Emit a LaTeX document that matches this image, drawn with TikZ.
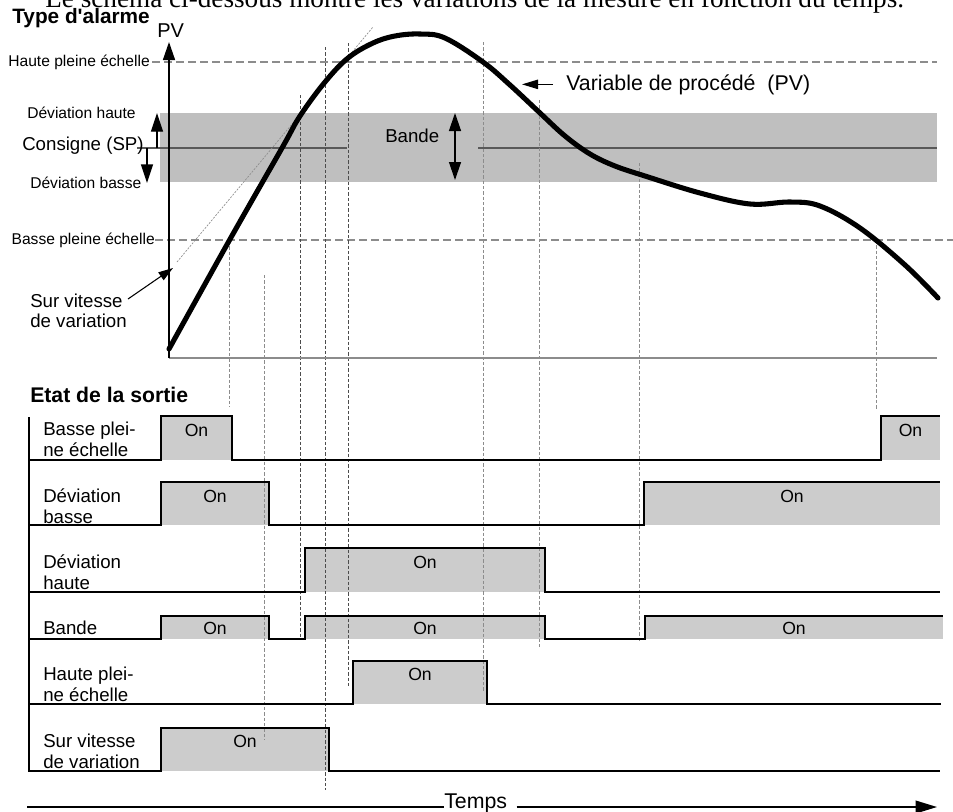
\documentclass[tikz,border=0pt]{standalone}
\usepackage{fontspec}
\setmainfont{Liberation Sans}[Ligatures=TeXOff]
\newfontfamily\alserif{Liberation Serif}
\usepackage{tikz}
\usetikzlibrary{arrows.meta}
\definecolor{band-gray}{gray}{0.75}
\definecolor{pulse-gray}{gray}{0.80}
\definecolor{guide-gray}{gray}{0.55}
\definecolor{sp-gray}{gray}{0.35}
\newcommand{\alfontsmall}{\fontsize{11.7}{14}\selectfont}
\newcommand{\alfontrow}{\fontsize{14}{15.75}\selectfont}
\newcommand{\alfontbig}{\fontsize{16}{18}\selectfont}
\newcommand{\alfonttitle}{\fontsize{15.6}{18}\selectfont\bfseries}
\tikzstyle{bandstyle}=[fill=band-gray]
\tikzstyle{pulsestyle}=[fill=pulse-gray]
\tikzstyle{sigstyle}=[draw=black,line width=2pt]
\tikzstyle{levelstyle}=[draw=guide-gray,line width=1pt,dash pattern=on 6pt off 3pt]
\tikzstyle{guidestyle}=[draw=guide-gray,line width=0.75pt,dash pattern=on 2.5pt off 1.5pt]
\tikzstyle{guidedarkstyle}=[draw=black!70,line width=0.75pt,dash pattern=on 2.5pt off 1.5pt]
\tikzstyle{pvcurvestyle}=[draw=black,line width=3.8pt,line cap=round,line join=round]
\tikzstyle{textstyle}=[anchor=base west,inner sep=0pt,align=left]
\tikzstyle{onstyle}=[anchor=base,inner sep=0pt,font=\fontsize{13.2}{15}\selectfont]
\tikzstyle{bigtip}=[line width=1pt,-{Triangle[length=14pt,width=9pt]}]
\newcommand{\alguide}[4]{ \draw[#4] (#1,#2) -- (#1,#3); }
\newcommand{\alpulse}[6]{ \fill[pulsestyle] (#2,#4) rectangle (#3,#5); \node[onstyle] (#1) at ({(#2+#3)/2},#6) {On}; }
\newcommand{\alrowlabel}[3]{ \node[textstyle,font=\alfontrow] (#1) at (43,#2) {#3}; }

\begin{document}
\begin{tikzpicture}[x=0.75pt,y=-0.75pt]
\useasboundingbox (0,0) rectangle (953,811); %
\begin{scope} \clip (0,0) rectangle (953,811); \node[textstyle,font=\alserif\fontsize{20.4}{22}\selectfont] (intro) at (45,7) {Le schéma ci-dessous montre les variations de la mesure en fonction du temps.}; \end{scope} %
\fill[bandstyle] (160,113) rectangle (937,182); %
\alpulse{onbpa}{161}{232}{416}{460}{436} %
\alpulse{onbpb}{881}{940}{416}{460}{436} %
\alpulse{ondba}{161}{269}{482}{525}{502} %
\alpulse{ondbb}{644}{940}{482}{525}{502} %
\alpulse{ondha}{305}{545}{548}{592}{568} %
\alpulse{onbda}{161}{269}{616}{639}{634} %
\alpulse{onbdb}{305}{545}{616}{639}{634} %
\alpulse{onbdc}{645}{943}{616}{639}{634} %
\alpulse{onhpa}{353}{487}{661}{704}{680} %
\alpulse{onsva}{161}{329}{728}{771}{747} %
\draw[levelstyle] (152,62) -- (937,62); %
\draw[levelstyle] (155,240) -- (953,240); %
\draw[draw=sp-gray,line width=1.1pt] (137,148) -- (347,148); %
\draw[draw=sp-gray,line width=1.1pt] (478,148) -- (937,148); %
\alguide{229}{241}{407}{guidestyle} %
\alguide{264}{275}{740}{guidestyle} %
\alguide{300}{95}{637}{guidedarkstyle} %
\alguide{325}{47}{790}{guidedarkstyle} %
\alguide{348}{43}{687}{guidedarkstyle} %
\alguide{483}{42}{692}{guidestyle} %
\alguide{539}{100}{647}{guidestyle} %
\alguide{639}{163}{642}{guidestyle} %
\alguide{876}{240}{410}{guidestyle} %
\draw[draw=guide-gray,line width=0.5pt,dash pattern=on 1.5pt off 1pt] (177,262) -- (373,27); %
\draw[pvcurvestyle] plot[smooth,tension=0.6] coordinates {(169,349) (229,241) (282,148) (300,116) (325,82) (348,58) (373,43) (395,36) (420,34) (445,38) (483,62) (510,85) (540,113) (565,136) (590,154) (615,166) (645,176) (700,193) (750,204) (790,202) (820,206) (860,228) (905,265) (938,298)}; %
\draw[draw=guide-gray,line width=1.1pt] (169,358) -- (937,358); %
\draw[line width=1.1pt,-{Triangle[length=13.5pt,width=9pt]}] (169,358) -- (169,42); %
\draw[bigtip] (157,148) -- (157,113); %
\draw[bigtip] (147,148) -- (147,183); %
\draw[line width=1pt,{Triangle[length=13.5pt,width=9pt]}-{Triangle[length=13.5pt,width=9pt]}] (455,113) -- (455,180); %
\node[textstyle,font=\alfonttitle] (typelbl) at (12,23) {Type d'alarme}; %
\node[textstyle,font=\fontsize{15}{17}\selectfont] (pvaxislbl) at (157,37) {PV}; %
\node[anchor=base east,inner sep=0pt,font=\alfontsmall] (hpelbl) at (150,66) {Haute pleine échelle}; %
\node[textstyle,font=\alfontsmall] (dhlbl) at (27,118) {Déviation haute}; %
\node[textstyle,font=\alfontrow] (splbl) at (22,150) {Consigne (SP)}; %
\node[textstyle,font=\alfontsmall] (dblbl) at (30,188) {Déviation basse}; %
\node[anchor=base east,inner sep=0pt,font=\alfontsmall] (bpelbl) at (155,244) {Basse pleine échelle}; %
\node[textstyle,font=\alfontrow] (bandelbl) at (385,142) {Bande}; %
\node[textstyle,font=\alfontbig] (pvlbl) at (566,90) {Variable de procédé \ (PV)}; %
\draw[line width=1pt,-{Triangle[length=12pt,width=7pt]}] ([xshift=-9.75pt]pvlbl.west) -- ([xshift=-33pt]pvlbl.west); %
\node[textstyle,font=\fontsize{14}{15}\selectfont] (svlbl) at (30,327) {Sur vitesse\\de variation}; %
\coordinate (svtail) at (128,299); %
\coordinate (svtip) at (173,268); %
\draw[line width=0.8pt,-{Triangle[length=11pt,width=7pt]}] (svtail) -- (svtip); %
\node[textstyle,font=\fontsize{15.9}{18}\selectfont\bfseries] (etatlbl) at (30,402) {Etat de la sortie}; %
\alrowlabel{rowbp}{456}{Basse plei-\\ne échelle} %
\alrowlabel{rowdb}{523}{Déviation\\basse} %
\alrowlabel{rowdh}{589}{Déviation\\haute} %
\alrowlabel{rowbd}{634}{Bande} %
\alrowlabel{rowhp}{701}{Haute plei-\\ne échelle} %
\alrowlabel{rowsv}{768}{Sur vitesse\\de variation} %
\draw[sigstyle] (29,417) -- (29,772); %
\draw[sigstyle] (29,460) -| (161,416) -| (232,460) -| (881,416) -- (940,416); %
\draw[sigstyle] (29,525) -| (161,482) -| (269,525) -| (644,482) -- (940,482); %
\draw[sigstyle] (29,592) -| (305,548) -| (545,592) -- (940,592); %
\draw[sigstyle] (29,639) -| (161,616) -| (269,639) -| (305,616) -| (545,639) -| (645,616) -- (943,616); %
\draw[sigstyle] (29,704) -| (353,661) -| (487,704) -- (941,704); %
\draw[sigstyle] (29,771) -| (161,728) -| (329,771) -- (940,771); %
\node[textstyle,font=\alfontbig] (tempslbl) at (444,808) {Temps}; %
\coordinate (tempsstart) at (27,807); %
\coordinate (tempsend) at (937,807); %
\draw[line width=1.2pt] (tempsstart) -- (tempsstart -| tempslbl.west); %
\draw[line width=1.2pt,-{Triangle[length=16pt,width=9.5pt]}] ([xshift=7pt]tempslbl.east |- tempsend) -- (tempsend); %
\end{tikzpicture}
\end{document}
